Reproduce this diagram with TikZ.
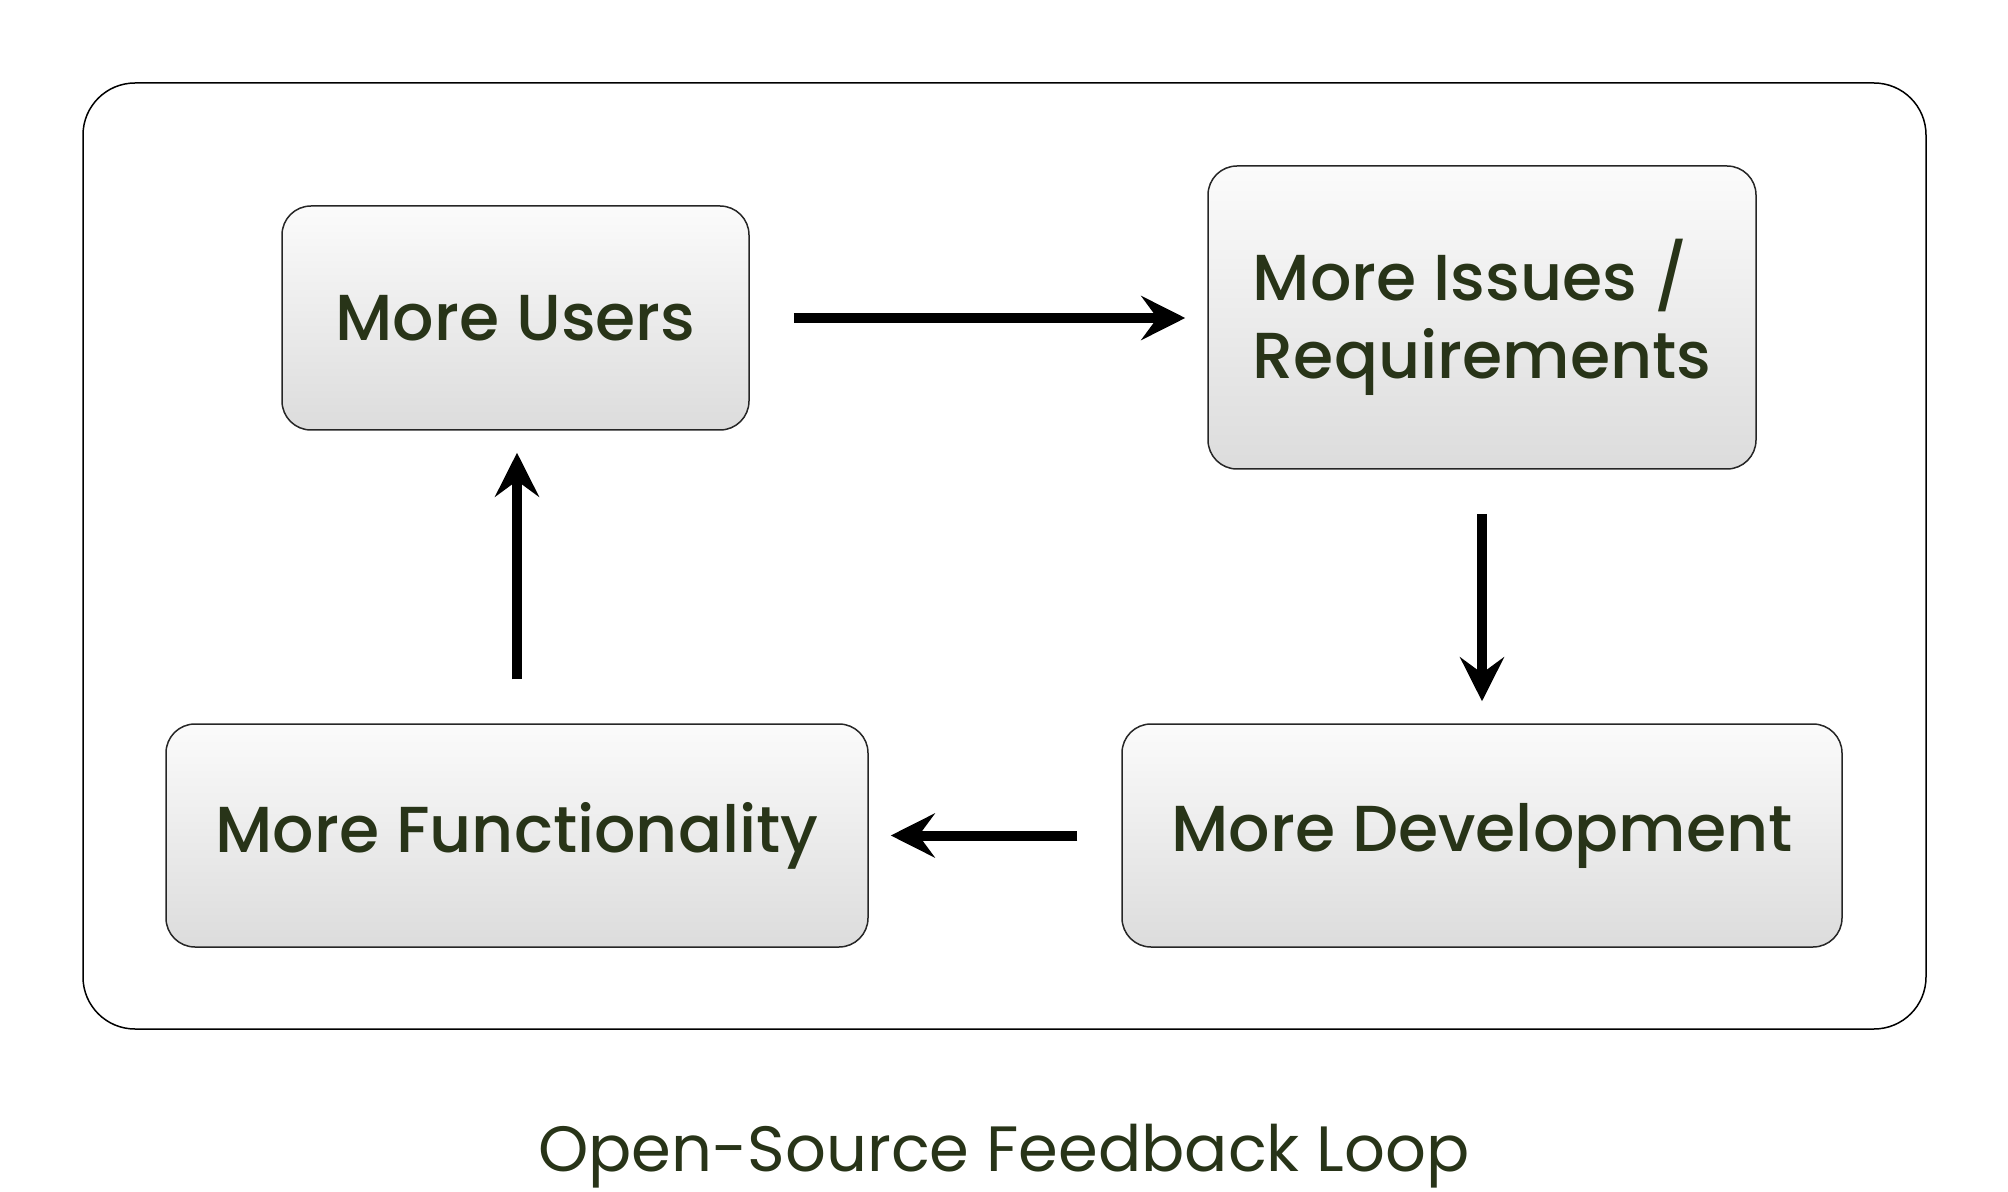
\documentclass[tikz,border=0pt]{standalone}
\usepackage{fontspec}
\setmainfont{Poppins}
\newfontfamily\boxfont{Poppins Medium}
\usetikzlibrary{arrows.meta}
\definecolor{txt}{RGB}{40,52,24}
\definecolor{boxtop}{RGB}{251,251,251}
\definecolor{boxbot}{RGB}{220,220,220}
\begin{document}
\begin{tikzpicture}[x=0.5pt,y=-0.5pt,
  stepbox/.style={draw=black!85,line width=0.75pt,rounded corners=14.5pt,
    top color=boxtop,bottom color=boxbot,text=txt,align=left,inner sep=0pt,
    font=\boxfont\fontsize{32.5}{39}\selectfont},
  flow/.style={line width=5pt,-{Stealth[length=22pt,width=22pt,inset=8pt]},
    shorten <=22pt,shorten >=11pt}]
\useasboundingbox (0,0) rectangle (2008,1192);
\draw[line width=0.75pt,rounded corners=26pt] (83,83) rectangle (1926,1029);
\node[stepbox,minimum width=233.5pt,minimum height=112pt] (users) at (515.5,318) {More Users};
\node[stepbox,minimum width=274pt,minimum height=151.5pt] (issues) at (1482,317.5) {More Issues /\\Requirements};
\node[stepbox,minimum width=360pt,minimum height=111.5pt] (dev) at (1482,835.5) {More Development};
\node[stepbox,minimum width=351pt,minimum height=111.5pt] (func) at (517,835.5) {More Functionality};
\node[anchor=base,inner sep=0pt,text=txt,font=\fontsize{32}{38}\selectfont] (cap) at (1004,1171) {Open-Source Feedback Loop};
\draw[flow] (users.east) -- (users.east -| issues.west);
\draw[flow] (issues.south) -- (dev.north);
\draw[flow] (dev.west) -- (func.east);
\draw[flow] (func.north) -- (func.north |- users.south);
\end{tikzpicture}
\end{document}
